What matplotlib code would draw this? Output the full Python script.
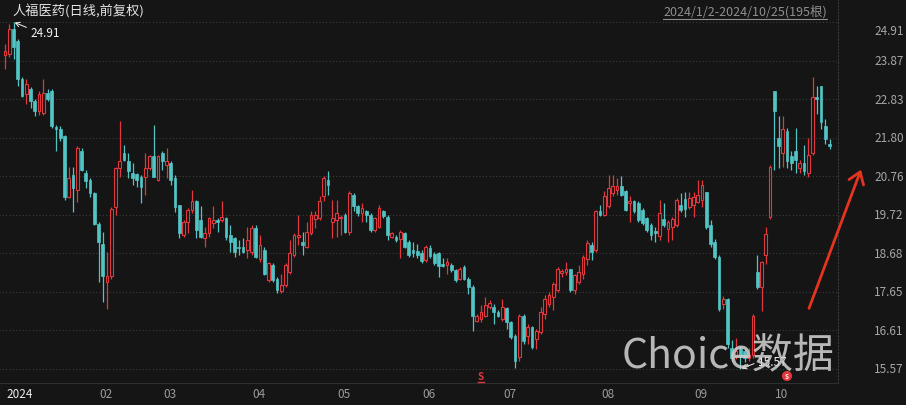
import matplotlib
matplotlib.use("Agg")
import matplotlib.pyplot as plt
import matplotlib.transforms as mtransforms
from matplotlib.lines import Line2D
from matplotlib.patches import FancyArrowPatch
import numpy as np

plt.rcParams['font.family'] = ['Noto Sans CJK SC', 'DejaVu Sans']

# ---------------- data ----------------
title = "人福医药(日线,前复权)"
range_label = "2024/1/2-2024/10/25(195根)"
month_labels = ["2024", "02", "03", "04", "05", "06", "07", "08", "09", "10"]
month_start_bars = [0, 22, 37, 58, 78, 98, 117, 140, 162, 181]
price_ticks = [24.91, 23.87, 22.83, 21.80, 20.76, 19.72, 18.68, 17.65, 16.61, 15.57]

opens = [24.01, 24.05, 24.73, 24.41, 23.37, 22.97, 23.10, 22.79, 22.51, 22.47,
         23.01, 23.06, 22.08, 22.02, 21.84, 20.21, 20.80, 20.39, 21.43, 20.84,
         20.66, 20.30, 19.48, 18.94, 17.90, 18.08, 19.94, 20.98, 21.38, 21.16,
         20.84, 20.81, 20.75, 20.75, 20.98, 21.29, 20.66, 21.38, 21.07, 21.11,
         20.71, 19.99, 19.18, 19.54, 19.86, 20.08, 19.58, 19.09, 19.22, 19.49,
         19.58, 19.58, 19.63, 19.18, 19.09, 18.86, 18.86, 18.77, 18.73, 19.36,
         18.54, 18.77, 17.96, 18.36, 18.00, 17.67, 17.82, 18.18, 18.64, 19.12,
         19.00, 18.86, 19.22, 19.60, 19.63, 20.22, 20.67, 19.54, 19.58, 19.63,
         19.72, 19.27, 20.26, 19.95, 19.77, 19.81, 19.72, 19.31, 19.40, 19.81,
         19.67, 19.13, 19.13, 19.08, 19.22, 18.98, 18.77, 18.75, 18.70, 18.50,
         18.82, 18.66, 18.68, 18.39, 18.37, 18.36, 18.23, 18.00, 18.32, 18.00,
         17.78, 16.87, 16.92, 17.01, 17.24, 17.24, 17.10, 16.92, 17.21, 16.83,
         16.47, 15.88, 17.01, 16.47, 16.69, 16.38, 16.56, 17.05, 17.33, 17.51,
         17.69, 18.16, 18.18, 18.27, 17.69, 17.91, 18.14, 18.54, 18.91, 18.77,
         19.81, 19.72, 19.95, 20.31, 20.40, 20.49, 20.35, 20.04, 20.08, 20.04,
         19.86, 19.63, 19.45, 19.28, 19.15, 19.62, 19.35, 19.39, 19.44, 19.98,
         20.14, 19.94, 19.98, 20.07, 20.12, 20.34, 19.44, 18.99, 18.58, 17.31,
         17.45, 16.14, 15.91, 16.14, 16.05, 15.87, 15.96, 18.17, 17.77, 18.63,
         19.67, 23.06, 21.79, 21.38, 21.97, 21.29, 21.43, 20.98, 21.11, 20.84,
         21.38, 22.89, 23.19, 22.11, 21.63]
highs = [24.32, 24.86, 24.91, 24.45, 23.42, 23.37, 23.15, 22.83, 23.06, 23.37,
         23.10, 23.10, 22.15, 22.11, 21.88, 21.02, 21.02, 21.56, 21.52, 20.93,
         20.71, 20.34, 19.53, 19.26, 18.72, 19.94, 21.02, 22.24, 21.61, 21.38,
         21.11, 20.84, 20.80, 21.38, 21.34, 22.15, 21.34, 21.43, 21.52, 21.16,
         20.80, 19.99, 19.58, 19.90, 20.40, 20.13, 19.95, 19.40, 19.67, 19.95,
         19.63, 20.08, 19.67, 19.45, 19.12, 19.04, 19.09, 19.40, 19.45, 19.45,
         19.18, 18.86, 18.45, 18.41, 18.05, 18.14, 18.41, 19.04, 19.22, 19.72,
         19.27, 19.54, 19.81, 19.81, 20.22, 20.76, 20.90, 20.13, 20.13, 19.72,
         19.77, 20.35, 20.31, 19.99, 20.04, 19.86, 19.77, 19.67, 19.99, 19.86,
         19.72, 19.27, 19.18, 19.31, 19.27, 19.04, 19.00, 18.93, 18.77, 18.91,
         18.91, 18.73, 18.73, 18.55, 18.55, 18.41, 18.27, 18.32, 18.36, 18.05,
         17.82, 17.05, 17.28, 17.51, 17.42, 17.33, 17.15, 17.46, 17.24, 16.87,
         16.51, 17.05, 17.05, 16.78, 16.74, 16.65, 17.24, 17.55, 17.64, 17.91,
         18.32, 18.27, 18.45, 18.27, 18.14, 18.36, 18.63, 19.04, 19.00, 19.86,
         19.99, 20.35, 20.80, 20.80, 20.71, 20.76, 20.40, 20.22, 20.13, 20.08,
         19.90, 19.67, 19.49, 19.40, 20.12, 20.03, 19.57, 19.67, 20.16, 20.30,
         20.34, 20.34, 20.34, 20.66, 20.66, 20.34, 19.58, 19.08, 18.63, 17.54,
         17.49, 16.36, 16.41, 16.18, 16.10, 16.14, 17.04, 18.63, 18.49, 19.39,
         21.07, 23.06, 22.38, 22.38, 22.06, 21.43, 22.06, 21.20, 21.61, 21.79,
         23.42, 23.19, 23.19, 22.30, 21.76]
lows = [23.64, 23.96, 23.92, 23.19, 22.88, 22.70, 22.60, 22.38, 22.42, 22.42,
        22.79, 22.06, 21.43, 21.70, 20.12, 20.16, 19.80, 20.07, 20.89, 20.44,
        20.21, 19.44, 17.90, 17.36, 17.18, 17.99, 19.71, 20.75, 21.16, 20.71,
        20.53, 20.48, 20.03, 20.25, 20.93, 20.75, 20.62, 20.93, 20.71, 20.52,
        19.80, 19.09, 19.13, 19.22, 19.77, 19.09, 19.09, 18.86, 19.13, 19.36,
        19.27, 19.54, 19.04, 18.73, 18.59, 18.64, 18.68, 18.55, 18.63, 18.55,
        18.45, 18.09, 17.91, 17.91, 17.61, 17.61, 17.79, 18.14, 18.59, 18.91,
        18.64, 18.82, 19.18, 19.36, 19.58, 20.08, 20.26, 19.09, 19.13, 19.18,
        19.22, 19.18, 19.81, 19.68, 19.54, 19.54, 19.27, 19.27, 19.36, 19.63,
        19.04, 19.09, 19.00, 18.56, 18.82, 18.59, 18.59, 18.57, 18.41, 18.45,
        18.55, 18.36, 18.05, 18.32, 18.14, 18.18, 17.91, 17.96, 17.96, 17.60,
        16.60, 16.83, 16.83, 16.96, 17.19, 16.78, 16.96, 16.87, 16.65, 16.37,
        15.60, 15.79, 16.24, 16.24, 16.10, 16.10, 16.51, 16.92, 17.24, 17.15,
        17.64, 18.05, 18.09, 17.64, 17.60, 17.87, 18.00, 18.36, 18.50, 18.73,
        19.68, 19.68, 19.90, 20.22, 20.26, 20.22, 19.81, 19.54, 19.77, 19.54,
        19.45, 19.27, 19.05, 18.99, 19.05, 19.39, 18.99, 19.03, 19.39, 19.80,
        19.67, 19.89, 19.67, 20.03, 19.94, 19.35, 18.85, 18.54, 17.13, 17.18,
        16.14, 15.78, 15.85, 15.57, 15.75, 15.78, 15.87, 17.72, 17.13, 18.40,
        19.62, 20.93, 20.98, 21.02, 20.98, 20.93, 20.84, 20.84, 20.80, 20.75,
        21.34, 22.43, 22.03, 21.63, 21.49]
closes = [24.14, 24.73, 24.23, 23.37, 22.92, 23.24, 22.79, 22.51, 22.97, 23.01,
          22.83, 22.11, 22.04, 21.79, 20.21, 20.71, 20.44, 21.52, 20.93, 20.62,
          20.30, 19.48, 18.99, 18.08, 18.08, 19.89, 20.98, 21.16, 21.20, 20.89,
          20.71, 20.66, 20.48, 20.98, 21.29, 20.75, 21.29, 21.16, 21.16, 20.66,
          19.94, 19.22, 19.54, 19.86, 20.08, 19.31, 19.13, 19.22, 19.63, 19.58,
          19.54, 19.67, 19.13, 19.00, 18.73, 18.82, 18.73, 19.04, 19.36, 18.59,
          18.91, 18.14, 18.41, 17.96, 17.69, 17.82, 18.36, 18.68, 19.18, 19.18,
          18.91, 19.27, 19.72, 19.72, 20.08, 20.72, 20.53, 19.63, 19.77, 19.67,
          19.27, 20.31, 19.95, 19.77, 19.90, 19.72, 19.31, 19.63, 19.90, 19.70,
          19.18, 19.22, 19.04, 19.27, 18.86, 18.64, 18.68, 18.64, 18.48, 18.86,
          18.62, 18.43, 18.34, 18.35, 18.44, 18.23, 17.96, 18.27, 18.00, 17.78,
          17.01, 17.01, 17.10, 17.28, 17.35, 17.10, 17.01, 17.24, 16.83, 16.42,
          15.79, 17.01, 16.33, 16.69, 16.15, 16.60, 17.10, 17.46, 17.55, 17.87,
          18.27, 18.22, 18.27, 17.69, 18.09, 18.18, 18.59, 18.95, 18.73, 19.81,
          19.72, 20.22, 20.44, 20.49, 20.49, 20.26, 19.86, 20.08, 19.81, 19.58,
          19.49, 19.31, 19.18, 19.23, 19.78, 19.44, 19.53, 19.62, 20.12, 19.85,
          19.89, 20.16, 20.21, 20.25, 20.52, 19.39, 18.94, 18.58, 17.18, 17.45,
          16.23, 15.87, 16.05, 15.91, 15.87, 15.96, 17.00, 17.77, 18.45, 19.21,
          21.02, 22.51, 21.56, 22.02, 21.16, 21.11, 21.20, 21.11, 20.89, 21.34,
          22.88, 22.83, 22.22, 21.76, 21.57]

signal_bars = [112, 184]
# -------------------------------------------------------------

BG = '#151515'
UP = '#e0383c'
DOWN = '#52c4c4'
GRID = '#3c3c3c'

W, H = 906, 406
fig = plt.figure(figsize=(W / 100, H / 100), dpi=100, facecolor=BG)
plot_right = 838
plot_bottom = 384
ax = fig.add_axes([0, (H - plot_bottom) / H, plot_right / W, plot_bottom / H])
ax.set_facecolor(BG)

n = len(opens)
x = np.arange(n)
o = np.array(opens); h = np.array(highs); l = np.array(lows); c = np.array(closes)
up = c >= o

# pixel scale: 24.91 at y=23px, 15.57 at y=370px
pp = (370 - 23) / (price_ticks[0] - price_ticks[-1])
ytop = price_ticks[0] + 23 / pp
ybot = price_ticks[0] - (plot_bottom - 23) / pp
ax.set_ylim(ybot, ytop)
ax.set_xlim(-5 / 4.25, (plot_right - 5) / 4.25)

# grid
ax.hlines(price_ticks, -5, n + 10, colors=GRID, linestyles=(0, (1, 2)), linewidth=0.8, zorder=0)

# wicks
ax.vlines(x[up], l[up], h[up], colors=UP, linewidth=0.9, zorder=2)
ax.vlines(x[~up], l[~up], h[~up], colors=DOWN, linewidth=0.9, zorder=2)
# bodies
bw = 0.62
minh = 0.03
body_lo = np.minimum(o, c)
body_h = np.maximum(np.abs(c - o), minh)
ax.bar(x[up], body_h[up], bottom=body_lo[up], width=bw, facecolor=BG,
       edgecolor=UP, linewidth=0.8, zorder=3)
ax.bar(x[~up], body_h[~up], bottom=body_lo[~up], width=bw, facecolor=DOWN,
       edgecolor=DOWN, linewidth=0.5, zorder=3)

# spines
for s in ['top', 'left']:
    ax.spines[s].set_visible(False)
ax.spines['right'].set_color('#3a3a3a')
ax.spines['right'].set_linestyle((0, (1, 2)))
ax.spines['right'].set_linewidth(0.8)
ax.spines['bottom'].set_color('#2e2e2e')
ax.spines['bottom'].set_linewidth(0.8)
ax.set_xticks([]); ax.set_yticks([])

# right price labels
ytrans = mtransforms.blended_transform_factory(ax.transAxes, ax.transData)
for i, p in enumerate(price_ticks):
    tr = ytrans
    if i == 0:
        tr = mtransforms.offset_copy(ytrans, fig=fig, y=-9, units='dots')
    ax.text(874 / plot_right, p, f"{p:.2f}", transform=tr, ha='left', va='center',
            fontsize=8.5, color='#a6a6a6', clip_on=False)

# month labels
xtrans = mtransforms.blended_transform_factory(ax.transData, ax.transAxes)
xtrans = mtransforms.offset_copy(xtrans, fig=fig, x=1, y=-11, units='dots')
for lab, b in zip(month_labels, month_start_bars):
    ax.text(b, 0, lab, transform=xtrans, ha='left', va='center', fontsize=8.5,
            color='#ececec' if lab == '2024' else '#9a9a9a', clip_on=False)

# high / low annotations
imax = int(np.argmax(h)); imin = int(np.argmin(l))
ax.annotate(f"{h[imax]:.2f}", xy=(imax, h[imax]), xytext=(17, -11), textcoords='offset pixels',
            ha='left', va='center', fontsize=8.5, color='#f2f2f2',
            arrowprops=dict(arrowstyle='->,head_length=0.35,head_width=0.2', color='#f2f2f2',
                            lw=0.7, shrinkA=1, shrinkB=1, relpos=(0, 0.8)), zorder=6)
ax.annotate(f"{l[imin]:.2f}", xy=(imin, l[imin]), xytext=(18, 7), textcoords='offset pixels',
            ha='left', va='center', fontsize=8.5, color='#f2f2f2',
            arrowprops=dict(arrowstyle='->,head_length=0.35,head_width=0.2', color='#f2f2f2',
                            lw=0.7, shrinkA=1, shrinkB=1, relpos=(0, 0.5)), zorder=6)

# signal markers
btrans = mtransforms.blended_transform_factory(ax.transData, ax.transAxes)
strans = mtransforms.offset_copy(btrans, fig=fig, y=7, units='dots')
ax.text(signal_bars[0], 0, "S", transform=strans, ha='center', va='center', fontsize=7,
        fontweight='bold', color=UP, clip_on=False, zorder=6)
utrans = mtransforms.offset_copy(btrans, fig=fig, y=1.5, units='dots')
ax.plot([signal_bars[0] - 0.6, signal_bars[0] + 0.6], [0, 0], transform=utrans,
        color=UP, lw=1.0, clip_on=False, zorder=6)
ax.text(signal_bars[1], 0, "S", transform=strans, ha='center', va='center', fontsize=4.5,
        fontweight='bold', color='white', clip_on=False, zorder=7,
        bbox=dict(boxstyle='circle,pad=0.25', fc=UP, ec='none'))

# watermark
fig.text(622 / W, 1 - 357 / H, "Choice数据", fontsize=29.5, color='#cfcfcf', alpha=0.88,
         ha='left', va='center', zorder=10)

# title + range
fig.text(12 / W, 1 - 12 / H, title, fontsize=9.5, color='#e4e4e4', ha='left', va='center')
rt = fig.text(827 / W, 1 - 12 / H, range_label, fontsize=9, color='#8e8e8e', ha='right', va='center')

# red trend arrow
arr = FancyArrowPatch((808 / W, 1 - 312 / H), (862 / W, 1 - 168 / H), transform=fig.transFigure,
                      arrowstyle='->,head_length=5,head_width=3.5', color='#e5331f', lw=2.0,
                      mutation_scale=1.6, zorder=11)
fig.patches.append(arr)

# underline for range label
fig.canvas.draw()
bb = rt.get_window_extent()
fig.add_artist(Line2D([bb.x0 / W, bb.x1 / W], [(bb.y0 - 1) / H, (bb.y0 - 1) / H],
                      transform=fig.transFigure, color='#8e8e8e', lw=0.8))

fig.savefig("out.png", dpi=100, facecolor=BG)
